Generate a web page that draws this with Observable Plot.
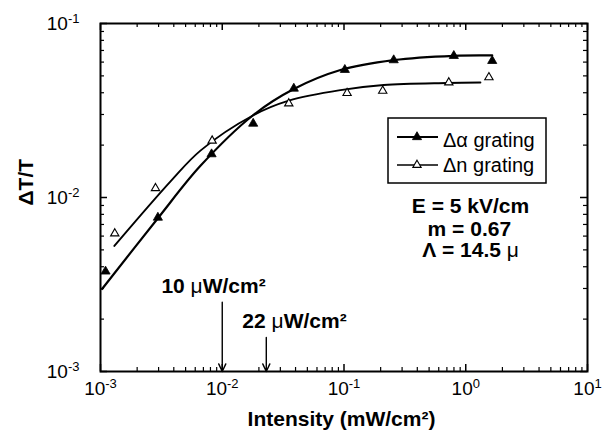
<!DOCTYPE html>
<html><head><meta charset="utf-8">
<script src="https://cdn.jsdelivr.net/npm/d3@7"></script>
<script src="https://cdn.jsdelivr.net/npm/@observablehq/plot@0.6"></script>
<style>
body{margin:0;background:#fff}
#chart svg{display:block}
</style>
</head><body><div id="chart"></div>
<script>
// ---------- data ----------
// Δα grating (filled triangles)
const alphaI = [0.0011, 0.00296, 0.00817, 0.01795, 0.0387, 0.1016, 0.256, 0.798, 1.65];
const alphaV = [0.00376, 0.00767, 0.01775, 0.0266, 0.0423, 0.0542, 0.0616, 0.0652, 0.061];
// Δn grating (open triangles)
const nI = [0.00131, 0.00283, 0.00826, 0.0352, 0.106, 0.208, 0.726, 1.55];
const nV = [0.00621, 0.0113, 0.0212, 0.0347, 0.0398, 0.041, 0.0458, 0.049];
// fitted curves
const alphaFitI = [0.00103, 0.00296, 0.00662, 0.0177, 0.0387, 0.0935, 0.256, 0.798, 1.65];
const alphaFitV = [0.00298, 0.0076, 0.0152, 0.0295, 0.0420, 0.0540, 0.0616, 0.0652, 0.0655];
const nFitI = [0.0013, 0.00381, 0.00662, 0.0177, 0.0352, 0.0935, 0.212, 0.705, 1.32];
const nFitV = [0.00527, 0.0125, 0.0186, 0.0295, 0.036, 0.0414, 0.0443, 0.0455, 0.0458];
// saturation-intensity arrows
const arrowI = [0.01, 0.023];
const arrowTop = [0.0025, 0.00157];
const arrowBottom = [0.001, 0.001];
const arrowLabels = ["10 μW/cm²", "22 μW/cm²"];
const arrowLabelI = [0.00848, 0.0392];
const arrowLabelV = [0.0031, 0.00195];
// parameter annotation
const paramLines = ["E = 5 kV/cm", "m = 0.67", "Λ = 14.5 μ"];
const paramI = [1.094, 1.07, 1.094];
const paramV = [0.00893, 0.00658, 0.00499];
// axes
const xMajor = [1e-3, 1e-2, 1e-1, 1, 10];
const yMajor = [1e-3, 1e-2, 1e-1];
const legendNames = ["Δα grating", "Δn grating"];
const xLabel = "Intensity (mW/cm²)";
const yLabel = "ΔT/T";

// ---------- build ----------
const W = 608, H = 431;
const mL = 100, mR = 21, mT = 23, mB = 60;
const fH = H - mT - mB, fW = W - mL - mR;
const majorLen = 7, minorLen = 4;
const FONT = "'Liberation Sans', Arial, Helvetica, sans-serif";

const xMinor = xMajor.slice(0, -1).flatMap(d => d3.range(2, 10).map(k => k * d));
const yMinor = yMajor.slice(0, -1).flatMap(d => d3.range(2, 10).map(k => k * d));

const alphaPts = alphaI.map((x, i) => ({x, y: alphaV[i]}));
const nPts = nI.map((x, i) => ({x, y: nV[i]}));
const alphaFit = alphaFitI.map((x, i) => ({x, y: alphaFitV[i]}));
const nFit = nFitI.map((x, i) => ({x, y: nFitV[i]}));
const arrows = arrowI.map((x, i) => ({x, y1: arrowTop[i], y2: arrowBottom[i]}));
const arrowText = arrowLabels.map((t, i) => ({t, x: arrowLabelI[i], y: arrowLabelV[i]}));
const params = paramLines.map((t, i) => ({t, x: paramI[i], y: paramV[i]}));

const fmt = d => "10^" + Math.round(Math.log10(d));

const chart = Plot.plot({
  width: W, height: H,
  marginLeft: mL, marginRight: mR, marginTop: mT, marginBottom: mB,
  style: {fontFamily: FONT, fontSize: "19px", color: "black", background: "white"},
  x: {type: "log", domain: [1e-3, 10], ticks: xMajor, tickFormat: fmt, tickSize: 0, tickPadding: 10, label: null},
  y: {type: "log", domain: [1e-3, 1e-1], ticks: yMajor, tickFormat: fmt, tickSize: 0, tickPadding: 21, label: null},
  marks: [
    // inward ticks on all four sides
    Plot.ruleX(xMajor, {insetTop: fH - majorLen, strokeWidth: 1.5}),
    Plot.ruleX(xMajor, {insetBottom: fH - majorLen, strokeWidth: 1.5}),
    Plot.ruleX(xMinor, {insetTop: fH - minorLen, strokeWidth: 1.2}),
    Plot.ruleX(xMinor, {insetBottom: fH - minorLen, strokeWidth: 1.2}),
    Plot.ruleY(yMajor, {insetRight: fW - majorLen, strokeWidth: 1.5}),
    Plot.ruleY(yMajor, {insetLeft: fW - majorLen, strokeWidth: 1.5}),
    Plot.ruleY(yMinor, {insetRight: fW - minorLen, strokeWidth: 1.2}),
    Plot.ruleY(yMinor, {insetLeft: fW - minorLen, strokeWidth: 1.2}),
    Plot.frame({stroke: "black", strokeWidth: 2}),
    // fits
    Plot.line(alphaFit, {x: "x", y: "y", curve: "catmull-rom", stroke: "black", strokeWidth: 2.2}),
    Plot.line(nFit, {x: "x", y: "y", curve: "catmull-rom", stroke: "black", strokeWidth: 1.9}),
    // data
    Plot.dot(alphaPts, {x: "x", y: "y", symbol: "triangle", r: 3.4, fill: "black", stroke: "black", strokeWidth: 0.8}),
    Plot.dot(nPts, {x: "x", y: "y", symbol: "triangle", r: 3.1, fill: "white", stroke: "black", strokeWidth: 1.1}),
    // arrows
    Plot.arrow(arrows, {x1: "x", x2: "x", y1: "y1", y2: "y2", headLength: 9, headAngle: 50, stroke: "black", strokeWidth: 1.4}),
    Plot.text(arrowText, {x: "x", y: "y", text: "t", fontSize: 21, fontWeight: "bold", lineAnchor: "middle"}),
    Plot.text(params, {x: "x", y: "y", text: "t", fontSize: 21, fontWeight: "bold", lineAnchor: "middle"}),
    // axis titles
    Plot.text([xLabel], {frameAnchor: "bottom", dx: -2.5, dy: 47.5, fontSize: 21, fontWeight: "bold", lineAnchor: "middle"}),
    Plot.text([yLabel], {frameAnchor: "left", dx: -74, dy: 8, rotate: -90, fontSize: 21, fontWeight: "bold", lineAnchor: "middle"})
  ]
});

document.getElementById("chart").appendChild(chart);
const svg = d3.select(chart.tagName.toLowerCase() === "svg" ? chart : chart.querySelector("svg"));

// superscript exponents on tick labels; lighter μ like the reference
svg.selectAll("text").each(function () {
  const el = this;
  if (el.children.length) return;
  const s = el.textContent;
  const m = s.match(/^10\^(-?\d+)$/);
  if (m) {
    el.textContent = "10";
    d3.select(el).append("tspan").attr("dy", "-7").attr("font-size", "13px").text(m[1]);
  } else if (s.includes("μ")) {
    const parts = s.split("μ");
    el.textContent = parts[0];
    for (let i = 1; i < parts.length; i++) {
      d3.select(el).append("tspan").attr("font-weight", "normal").text("μ");
      d3.select(el).append("tspan").text(parts[i]);
    }
  }
});

// legend (chart chrome)
const lg = svg.append("g").attr("font-family", FONT).attr("font-size", 20).attr("text-anchor", "start");
lg.append("rect").attr("x", 388).attr("y", 118).attr("width", 158).attr("height", 65)
  .attr("fill", "white").attr("stroke", "black").attr("stroke-width", 1.5);
const rows = [
  {y: 137, base: 147, fill: "black", sw: 2.2, r: 3.4},
  {y: 165, base: 172, fill: "white", sw: 1.7, r: 3.1}
];
rows.forEach((r, i) => {
  lg.append("line").attr("x1", 397).attr("x2", 438).attr("y1", r.y).attr("y2", r.y)
    .attr("stroke", "black").attr("stroke-width", r.sw);
  lg.append("path").attr("d", d3.symbol(d3.symbolTriangle, Math.PI * r.r * r.r)())
    .attr("transform", `translate(417,${r.y})`).attr("fill", r.fill)
    .attr("stroke", "black").attr("stroke-width", i ? 1.1 : 0.8);
  lg.append("text").attr("x", 443).attr("y", r.base).attr("text-anchor", "start").text(legendNames[i]);
});
</script>
</body></html>
